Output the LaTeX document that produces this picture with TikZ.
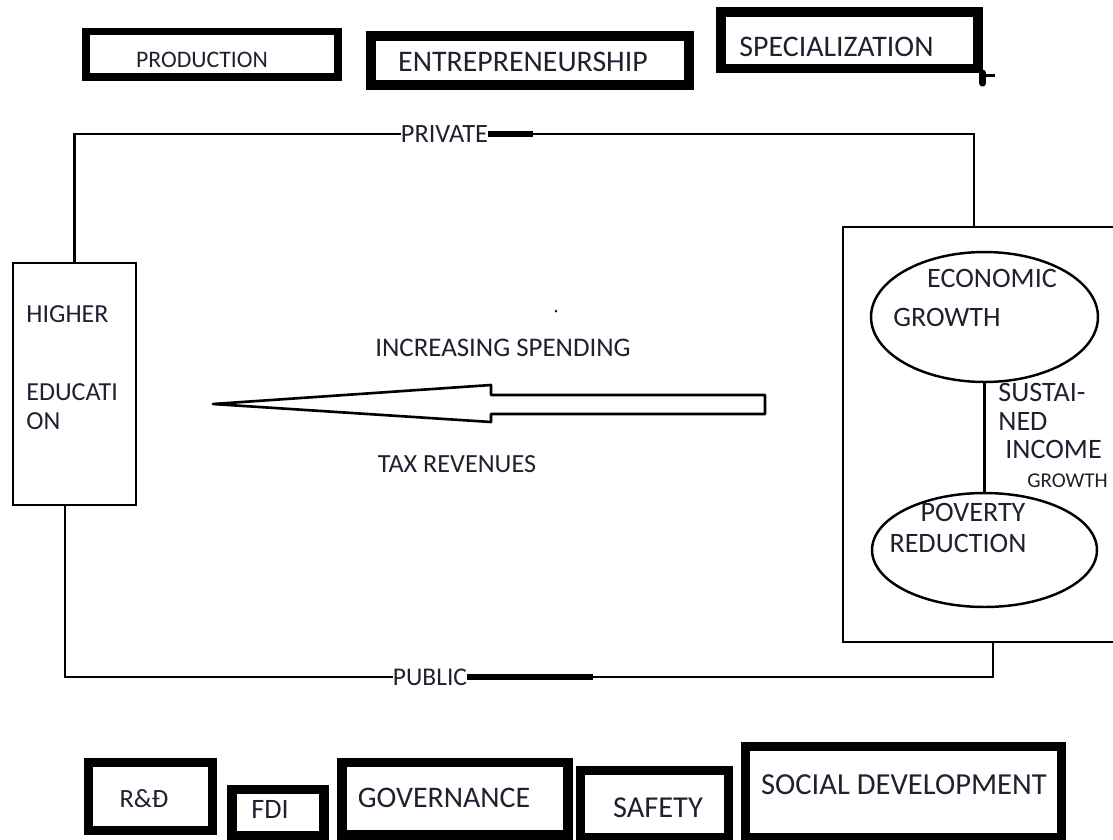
\documentclass[tikz,border=0pt]{standalone}
\usepackage{fontspec}
\setmainfont{Carlito}
\usetikzlibrary{shapes.geometric}
\definecolor{ink}{RGB}{32,32,48}
\newcommand{\lblsize}[1]{\fontsize{#1}{#1}\selectfont}
\tikzset{
  thickbox/.style={draw, line width=5.2pt, inner sep=0pt},
  thinbox/.style={draw, line width=1.6pt, inner sep=0pt},
  oval/.style={draw, ellipse, line width=1.4pt, inner sep=0pt},
  lbl/.style={inner sep=0pt, text=ink},
  wire/.style={line width=1.5pt},
}
\begin{document}
\begin{tikzpicture}[x=0.02cm, y=-0.02cm]
  \useasboundingbox (0,0) rectangle (1113,839);
  \clip (0,0) rectangle (1113,839);

  % top row
  \node[thickbox, line width=4.5pt, minimum width=5.04cm, minimum height=0.91cm] (prod) at (212,54.25) {};
  \node[lbl, font=\lblsize{13.5}] (prodtxt) at (202,60) {PRODUCTION};
  \node[thickbox, minimum width=6.36cm, minimum height=0.98cm] (entr) at (530,60.5) {};
  \node[lbl, font=\lblsize{17}] (entrtxt) at (523,62) {ENTREPRENEURSHIP};
  \node[thickbox, minimum width=5.14cm, minimum height=1.13cm] (spec) at (849.5,40.25) {};
  \node[lbl, font=\lblsize{17}] (spectxt) at (836.5,47) {SPECIALIZATION};
  \draw[line width=4pt, line cap=round] (spec.south east) -- ++(0,10);
  \draw[line width=1.5pt] ([yshift=-0.05cm]spec.south east) -- ++(12,0);

  % higher education
  \node[thinbox, minimum width=2.46cm, minimum height=4.84cm] (hedu) at (74.5,384) {};
  \node[lbl, font=\fontsize{14.8}{16.5}\selectfont, align=left, anchor=north west] (hedutxt) at (26,305.6)
    {HIGHER\\[27.9pt]EDUCATI\\ON};

  % growth box
  \node[thinbox, minimum width=6cm, minimum height=8.3cm] (rbox) at (993,434.5) {};
  \node[oval, minimum width=4.54cm, minimum height=2.6cm] (growth) at (984.5,317) {};
  \node[oval, minimum width=4.5cm, minimum height=2.28cm] (poverty) at (984.5,550) {};
  \draw[wire] (growth.south) -- (poverty.north);
  \node[lbl, font=\lblsize{16}] (growtha) at (992,278) {ECONOMIC};
  \node[lbl, font=\lblsize{16}] (growthb) at (947,317) {GROWTH};
  \node[lbl, font=\lblsize{16}] (povertya) at (973,512) {POVERTY};
  \node[lbl, font=\lblsize{16}] (povertyb) at (958,543) {REDUCTION};
  \node[lbl, font=\fontsize{16}{16.3}\selectfont, align=left, anchor=north west] (sust) at (998,383)
    {SUSTAI-\\NED\\\hspace{4pt}INCOME\\\hspace{16.5pt}{\fontsize{12}{16.3}\selectfont GROWTH}};

  % spending arrow
  \draw[line width=1.5pt, line join=round] (213,404) -- (491,385) -- (491,395) -- (765,395)
    -- (765,414) -- (491,414) -- (491,422) -- cycle;
  \node[lbl, font=\lblsize{15.3}] (spend) at (503,348) {INCREASING SPENDING};
  \node[lbl, font=\lblsize{14.9}] (tax) at (457,464) {TAX REVENUES};
  \fill[ink] (556,311) circle[radius=0.03cm];

  % private and public loop
  \node[lbl, font=\lblsize{15}] (priv) at (444.5,134) {PRIVATE};
  \node[lbl, font=\lblsize{14.5}] (pub) at (430,677) {PUBLIC};
  \draw[wire] (hedu.north) |- (priv.west);
  \draw[wire] (priv.east) -| ([xshift=-0.38cm]rbox.north);
  \draw[line width=3pt] (priv.east) -- ++(45,0);
  \draw[wire] ([xshift=-0.19cm]hedu.south) |- (pub.west);
  \draw[wire] (rbox.south) |- (pub.east);
  \draw[line width=3pt] (pub.east) -- ++(126,0);

  % bottom row
  \node[thickbox, minimum width=2.48cm, minimum height=1.36cm] (rnd) at (150.5,796.5) {};
  \node[lbl, font=\lblsize{15}] (rndtxt) at (144,799) {R\&Đ};
  \node[thickbox, minimum width=1.84cm, minimum height=0.93cm] (fdi) at (278,812.75) {};
  \node[lbl, font=\lblsize{16}] (fditxt) at (270,809) {FDI};
  \node[thickbox, minimum width=4.52cm, minimum height=1.45cm] (gov) at (455,798.75) {};
  \node[lbl, font=\lblsize{17}] (govtxt) at (444,798) {GOVERNANCE};
  \node[thickbox, minimum width=2.96cm, minimum height=1.35cm] (safe) at (654.5,804.25) {};
  \node[lbl, font=\lblsize{17.3}] (safetxt) at (658,808) {SAFETY};
  \node[thickbox, minimum width=6.32cm, minimum height=1.83cm] (soc) at (903.5,792.25) {};
  \node[lbl, font=\lblsize{17.4}] (soctxt) at (904,785) {SOCIAL DEVELOPMENT};
\end{tikzpicture}
\end{document}
